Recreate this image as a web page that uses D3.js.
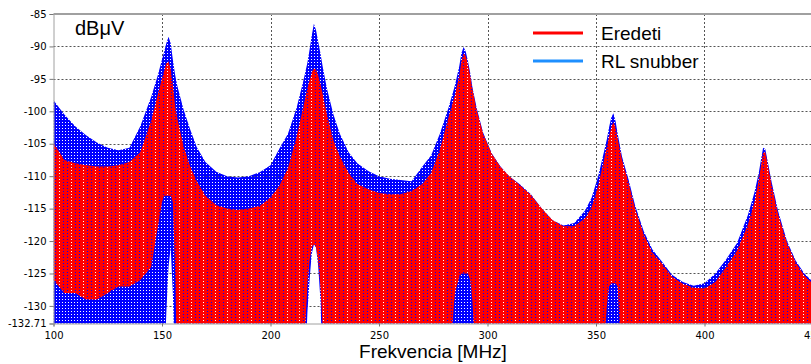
<!DOCTYPE html>
<html>
<head>
<meta charset="utf-8">
<script src="https://cdn.jsdelivr.net/npm/d3@7"></script>
<style>
  body { margin: 0; background: #fff; }
  svg { display: block; }
</style>
</head>
<body>
<div id="chart"></div>
<script>
const freq = [100,105,110,115,120,125,130,135,140,145,148,150,151,152,153,154,155,156,157,158,
  160,163,166,170,175,180,185,190,195,200,204,208,212,215,216,217,218,219,220,221,222,223,224,
  226,229,232,236,240,245,250,255,260,265,270,274,278,282,285,287,288,289,290,291,292,293,295,
  298,302,306,310,315,320,325,330,335,340,345,348,351,353,355,356,357,358,359,360,362,
  365,368,372,376,380,385,390,395,400,405,410,415,420,423,425,426,427,428,429,431,434,438,442,446,450];

// Upper envelope of the RL snubber spectrum (dBµV)
const snubberHigh = [-98.3,-100.5,-102.3,-103.7,-104.8,-105.6,-106.0,-105.6,-102.3,-97.8,-94.5,-92,-90.8,-89.5,-88.5,-89.5,-92,-94.3,-96,-97.3,
  -99.8,-102.8,-105.5,-107.8,-109.3,-110,-110.2,-110,-109.4,-108.3,-105.8,-103.5,-99.5,-95.5,-94,-92.5,-90.5,-88.3,-86.5,-87.5,-89.3,-91,-93,
  -96.5,-100.5,-103.5,-106.3,-108,-109.2,-110,-110.4,-110.6,-110.8,-108.5,-106.8,-103.5,-99.5,-96,-93,-91,-90.1,-90.8,-92.3,-94,-96.2,-99.5,
  -103.3,-106.5,-108.5,-110,-111.3,-112.8,-115,-116.8,-117.6,-117.2,-115.3,-113.3,-110,-107.2,-104.3,-102.5,-101,-100.3,-101.5,-103.5,-107,
  -110.5,-114.5,-118.5,-121.3,-123,-125.2,-126.3,-126.9,-126.5,-125,-122.8,-120.3,-116,-112.5,-109.5,-107.5,-105.6,-105.8,-107.5,-111,-115.5,-120,-123,-125,-126.3];

// Upper envelope of the original (Eredeti) spectrum (dBµV)
const eredetiHigh = [-104.9,-107.5,-108,-108.3,-108.5,-108.5,-108.3,-107.8,-106.3,-101.5,-97.5,-95,-93.8,-92.6,-92.3,-93.5,-96,-99,-101,-102.5,
  -105.5,-108.5,-110.8,-113,-114.5,-115,-115.2,-115,-114.6,-113.3,-111.5,-108.8,-104,-99.5,-98,-96.5,-95.3,-94,-93.4,-93.6,-94.5,-95.8,-97.3,
  -100.5,-104.5,-107,-109.5,-111.2,-112,-112.6,-112.8,-112.8,-112.3,-111.2,-109.5,-106,-101,-97.5,-94.5,-92.3,-91,-91.5,-92.8,-94.5,-96.5,-99.8,
  -103.5,-106.6,-108.6,-110,-111.4,-112.9,-115,-116.8,-117.7,-117.7,-116.5,-114.8,-111.5,-108.5,-105.5,-104,-102.5,-101.7,-102.5,-104.3,-107.5,
  -111,-115,-119,-121.8,-123.3,-125.5,-126.6,-127.2,-127.3,-126.3,-124,-121.5,-117.5,-114,-110.5,-108.5,-106.4,-106.3,-108,-111.5,-116,-120.3,-123.3,-125.3,-126.6];

// Lower envelope where the spectrum leaves gaps above the bottom of the plot
const floorDb = -140;
const snubberLow = [[151,-140],[152,-131],[153,-124],[154,-121],[155,-128],[156,-140],
  [216,-140],[217,-131],[218,-126],[219,-122],[220,-120.5],[221,-121],[222,-124],[223,-129],[224,-140]];
const eredetiLow = [[100,-126],[105,-128],[110,-128],[115,-129],[120,-129],[125,-128],[130,-127],[135,-127],[140,-126],[145,-124],
  [148,-118],[150,-114],[151,-113],[152,-113],[153,-113],[154,-113],[155,-114],[156,-124],[157,-140],
  [215,-140],[216,-133],[217,-127],[218,-123],[219,-121],[220,-120.5],[221,-121],[222,-123],[223,-127],[224,-133],[226,-140],
  [282,-140],[285,-128],[287,-125.5],[288,-125],[289,-125],[290,-125],[291,-125],[292,-126],[293,-129],[295,-140],
  [353,-140],[355,-130],[356,-127],[357,-126.5],[358,-126.5],[359,-126.5],[360,-127],[362,-140]];

const xTicks = [100, 150, 200, 250, 300, 350, 400, 450];
const yTicks = [-85, -90, -95, -100, -105, -110, -115, -120, -125, -130, -132.71];
const legendItems = ["Eredeti", "RL snubber"];

const width = 811;
const height = 364;
const plotLeft = 53.5, plotRight = 813, plotTop = 14, plotBottom = 323.5;

const x = d3.scaleLinear().domain([100, 450]).range([plotLeft, plotRight]);
const y = d3.scaleLinear().domain([-132.71, -85]).range([plotBottom, plotTop]);

function buildSeries(high, lowPairs) {
  const low = new Map(lowPairs);
  return freq.map((f, i) => ({ f: f, hi: high[i], lo: low.has(f) ? low.get(f) : floorDb }));
}
const snubber = buildSeries(snubberHigh, snubberLow);
const eredeti = buildSeries(eredetiHigh, eredetiLow);

const svg = d3.select("#chart").append("svg")
  .attr("width", width)
  .attr("height", height);

svg.append("rect").attr("width", width).attr("height", height).attr("fill", "#fff");

const defs = svg.append("defs");
defs.append("clipPath").attr("id", "plot-clip")
  .append("rect")
  .attr("x", plotLeft).attr("y", plotTop)
  .attr("width", plotRight - plotLeft).attr("height", plotBottom - plotTop);

// dotted textures that mimic the dense sweep strokes
const blueTex = defs.append("pattern").attr("id", "tex-blue")
  .attr("patternUnits", "userSpaceOnUse").attr("width", 3).attr("height", 3);
blueTex.append("rect").attr("width", 3).attr("height", 2).attr("fill", "#0000ff");
blueTex.append("rect").attr("y", 2).attr("width", 2).attr("height", 1).attr("fill", "#0000ff");

const redTex = defs.append("pattern").attr("id", "tex-red")
  .attr("patternUnits", "userSpaceOnUse").attr("width", 4).attr("height", 3);
redTex.append("rect").attr("width", 3).attr("height", 3).attr("fill", "#ff0000");
redTex.append("rect").attr("x", 3).attr("width", 1).attr("height", 2).attr("fill", "#ff0000");

// Grid
const grid = svg.append("g").attr("stroke", "#555").attr("stroke-width", 1).attr("stroke-dasharray", "2,2");
grid.selectAll("line.v")
  .data(xTicks.filter((d) => d > 100))
  .enter().append("line")
  .attr("class", "v")
  .attr("x1", (d) => Math.round(x(d)) + 0.5).attr("x2", (d) => Math.round(x(d)) + 0.5)
  .attr("y1", plotTop).attr("y2", plotBottom);
grid.selectAll("line.h")
  .data(yTicks.filter((d) => d < -85 && d > -132))
  .enter().append("line")
  .attr("class", "h")
  .attr("y1", (d) => Math.round(y(d)) + 0.5).attr("y2", (d) => Math.round(y(d)) + 0.5)
  .attr("x1", plotLeft).attr("x2", plotRight);

// Spectra
const area = d3.area()
  .x((d) => x(d.f))
  .y0((d) => y(d.lo))
  .y1((d) => y(d.hi));

const plot = svg.append("g").attr("clip-path", "url(#plot-clip)");
plot.append("path").datum(snubber).attr("d", area).attr("fill", "url(#tex-blue)");
plot.append("path").datum(eredeti).attr("d", area).attr("fill", "url(#tex-red)");

// Axes
const yAxis = svg.append("g")
  .attr("transform", `translate(${plotLeft},0)`)
  .call(d3.axisLeft(y).tickValues(yTicks).tickSize(4).tickPadding(3).tickFormat((d) => d === -132.71 ? "-132.71" : d));
const xAxis = svg.append("g")
  .attr("transform", `translate(0,${plotBottom})`)
  .call(d3.axisBottom(x).tickValues(xTicks).tickSize(3).tickPadding(5));
[xAxis, yAxis].forEach((g) => {
  g.select(".domain").attr("stroke", "#a0a0a0");
  g.selectAll(".tick line").attr("stroke", "#777");
  g.selectAll("text").attr("fill", "#000").style("font-family", "DejaVu Sans").style("font-size", "10px");
});

svg.append("line")
  .attr("x1", plotLeft).attr("x2", width).attr("y1", plotTop).attr("y2", plotTop)
  .attr("stroke", "#a0a0a0").attr("stroke-width", 2);

// Labels
svg.append("text")
  .attr("x", 75).attr("y", 35)
  .style("font-family", "Liberation Sans").style("font-size", "20px")
  .text("dBμV");

svg.append("text")
  .attr("x", 433).attr("y", 358)
  .attr("text-anchor", "middle")
  .style("font-family", "Liberation Sans").style("font-size", "19px")
  .text("Frekvencia [MHz]");

// Legend
const legendColor = d3.scaleOrdinal().domain(legendItems).range(["#ff0000", "#1e8fff"]);
const legend = svg.selectAll("g.legend")
  .data(legendItems)
  .enter().append("g")
  .attr("class", "legend")
  .attr("transform", (_, i) => `translate(533,${33 + i * 28})`);
legend.append("line")
  .attr("x1", 0).attr("x2", 50)
  .attr("stroke", (d) => legendColor(d)).attr("stroke-width", 3);
legend.append("text")
  .attr("x", 68).attr("y", 7)
  .style("font-family", "Liberation Sans").style("font-size", "19px")
  .text((d) => d);
</script>
</body>
</html>
